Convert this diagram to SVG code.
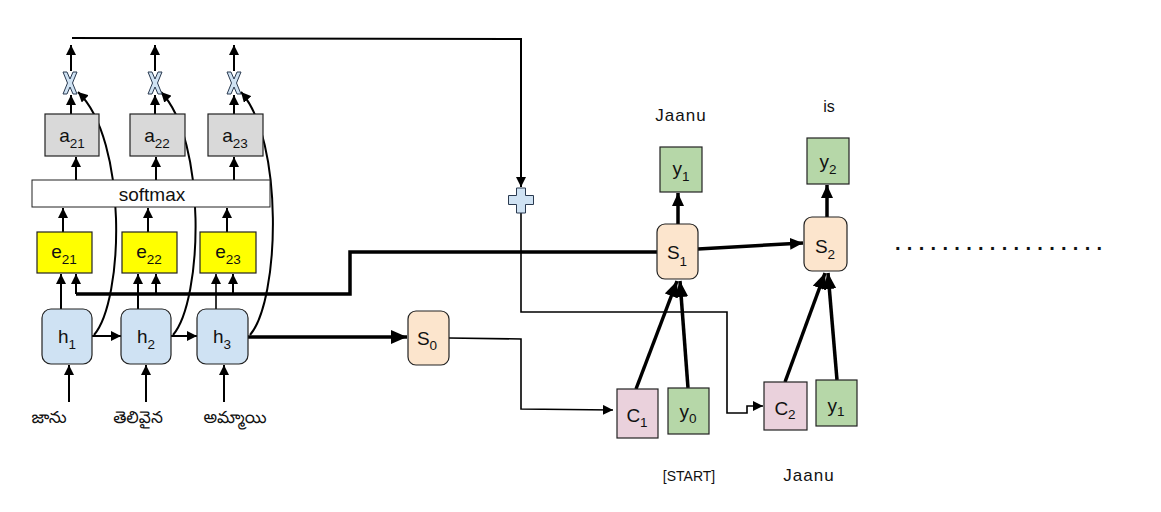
<svg xmlns="http://www.w3.org/2000/svg" width="1161" height="512" viewBox="0 0 1161 512">
<style>
text{font-family:"Liberation Sans",Arial,sans-serif;fill:#111}
.l{font-size:19px;text-anchor:middle}
.s{font-size:13.5px}
.w{font-size:16px;text-anchor:middle}
.te{font-family:"Noto Sans Telugu","Noto Sans","Liberation Sans",sans-serif;font-size:17px;text-anchor:middle}
.box{stroke:#222;stroke-width:1.2}
.gray{fill:#d9d9d9}.yel{fill:#ffff00}.blue{fill:#cfe2f3}.peach{fill:#fce5cd}.green{fill:#b6d7a8}.pink{fill:#ead1dc}
.c{fill:none;stroke:#000;stroke-width:2}
.k{fill:none;stroke:#000;stroke-width:3.5}
.t{fill:none;stroke:#000;stroke-width:1.6}
</style>
<defs>
<marker id="a" markerUnits="userSpaceOnUse" markerWidth="10" markerHeight="10" refX="10" refY="5" orient="auto"><path d="M0,0 L10,5 L0,10 z" fill="#000"/></marker>
<marker id="b" markerUnits="userSpaceOnUse" markerWidth="16" markerHeight="14" refX="16" refY="7" orient="auto"><path d="M0,0 L16,7 L0,14 z" fill="#000"/></marker>
<marker id="m" markerUnits="userSpaceOnUse" markerWidth="13" markerHeight="12" refX="13" refY="6" orient="auto"><path d="M0,0 L13,6 L0,12 z" fill="#000"/></marker>
<polygon id="x" points="-7,-11 -3,-11 0,-4 3,-11 7,-11 2.5,0 7,11 3,11 0,4 -3,11 -7,11 -2.5,0" fill="#cfe2f3" stroke="#2a3a50" stroke-width="1"/>
</defs>

<g id="connectors">
<path class="c" d="M72,38 L521,39 L521,187" marker-end="url(#a)"/>
<path class="c" d="M71,71 V45" marker-end="url(#a)"/>
<path class="c" d="M155,71 V45" marker-end="url(#a)"/>
<path class="c" d="M234,71 V45" marker-end="url(#a)"/>
<path class="c" d="M71,114 V95" marker-end="url(#a)"/>
<path class="c" d="M155,114 V95" marker-end="url(#a)"/>
<path class="c" d="M234,114 V95" marker-end="url(#a)"/>
<path class="c" d="M76,180 V157" marker-end="url(#a)"/>
<path class="c" d="M156,180 V157" marker-end="url(#a)"/>
<path class="c" d="M234,180 V157" marker-end="url(#a)"/>
<path class="c" d="M63,232 V208" marker-end="url(#a)"/>
<path class="c" d="M148,232 V208" marker-end="url(#a)"/>
<path class="c" d="M227,232 V208" marker-end="url(#a)"/>
<path class="c" d="M61,309 V274" marker-end="url(#a)"/>
<path class="c" d="M138,309 V274" marker-end="url(#a)"/>
<path class="t" d="M216,309 V274" marker-end="url(#a)"/>
<path class="c" d="M76,294 V274" marker-end="url(#a)"/>
<path class="c" d="M156,294 V274" marker-end="url(#a)"/>
<path class="c" d="M233,294 V274" marker-end="url(#a)"/>
<path class="k" d="M76,294 H350 V252 H657"/>
<path class="c" d="M92,336 H121" marker-end="url(#a)"/>
<path class="c" d="M171,336 H197" marker-end="url(#a)"/>
<path class="c" d="M94,335 C124,300 128,140 78,92" marker-end="url(#a)"/>
<path class="c" d="M173,335 C203,300 207,140 161,92" marker-end="url(#a)"/>
<path class="c" d="M250,335 C280,300 284,140 241,92" marker-end="url(#a)"/>
<path class="c" d="M69,402 V365" marker-end="url(#a)"/>
<path class="c" d="M146,402 V365" marker-end="url(#a)"/>
<path class="c" d="M224,402 V365" marker-end="url(#a)"/>
<path class="k" d="M248,337 H407" marker-end="url(#b)"/>
<path class="t" d="M449,338 L521,339 L521,409 L613,410" marker-end="url(#a)"/>
<path class="t" d="M521,213 V312 H727 V413 H747 V406 H763" marker-end="url(#a)"/>
<path class="k" d="M636,389 L677,281" marker-end="url(#b)"/>
<path class="k" d="M688,388 L680,281" marker-end="url(#b)"/>
<path class="k" d="M785,382 L825,273" marker-end="url(#b)"/>
<path class="k" d="M837,380 L828,273" marker-end="url(#b)"/>
<path class="k" d="M698,249 L803,243" marker-end="url(#m)"/>
<path class="k" d="M678,224 V193" marker-end="url(#m)"/>
<path class="k" d="M827,217 V185" marker-end="url(#m)"/>
</g>

<g id="mul1"><use href="#x" x="70" y="83"/></g>
<g id="mul2"><use href="#x" x="155" y="83"/></g>
<g id="mul3"><use href="#x" x="234" y="83"/></g>
<g id="plus"><polygon points="516.5,188 525.5,188 525.5,195.5 533.5,195.5 533.5,204.5 525.5,204.5 525.5,213 516.5,213 516.5,204.5 508.5,204.5 508.5,195.5 516.5,195.5" fill="#cfe2f3" stroke="#2a3a50" stroke-width="1"/></g>

<g id="a21"><rect class="box gray" x="45" y="114" width="54" height="42"/><text class="l" x="72" y="142">a<tspan class="s" dy="6">21</tspan></text></g>
<g id="a22"><rect class="box gray" x="130" y="114" width="55" height="42"/><text class="l" x="157" y="142">a<tspan class="s" dy="6">22</tspan></text></g>
<g id="a23"><rect class="box gray" x="208" y="114" width="55" height="42"/><text class="l" x="235" y="142">a<tspan class="s" dy="6">23</tspan></text></g>

<g id="softmax"><rect x="32" y="180" width="238" height="27" fill="#fff" stroke="#222" stroke-width="1"/><text x="152" y="201" style="font-size:19px;text-anchor:middle">softmax</text></g>

<g id="e21"><rect class="box yel" x="37" y="232" width="55" height="41"/><text class="l" x="64" y="258">e<tspan class="s" dy="6">21</tspan></text></g>
<g id="e22"><rect class="box yel" x="122" y="232" width="55" height="41"/><text class="l" x="149" y="258">e<tspan class="s" dy="6">22</tspan></text></g>
<g id="e23"><rect class="box yel" x="200" y="232" width="56" height="41"/><text class="l" x="228" y="258">e<tspan class="s" dy="6">23</tspan></text></g>

<g id="h1"><rect class="box blue" x="42" y="309" width="50" height="55" rx="9"/><text class="l" x="67" y="343">h<tspan class="s" dy="6">1</tspan></text></g>
<g id="h2"><rect class="box blue" x="121" y="309" width="50" height="55" rx="9"/><text class="l" x="146" y="343">h<tspan class="s" dy="6">2</tspan></text></g>
<g id="h3"><rect class="box blue" x="197" y="309" width="51" height="55" rx="9"/><text class="l" x="222" y="343">h<tspan class="s" dy="6">3</tspan></text></g>

<g id="w1"><text class="te" x="49" y="423">జాను</text></g>
<g id="w2"><text class="te" x="138" y="423">తెలివైన</text></g>
<g id="w3"><text class="te" x="235" y="423">అమ్మాయి</text></g>

<g id="s0"><rect class="box peach" x="408" y="311" width="41" height="54" rx="8"/><text class="l" x="427" y="345">S<tspan class="s" dy="5">0</tspan></text></g>
<g id="s1"><rect class="box peach" x="657" y="224" width="41" height="55" rx="8"/><text class="l" x="677" y="259">S<tspan class="s" dy="7">1</tspan></text></g>
<g id="s2"><rect class="box peach" x="804" y="217" width="43" height="54" rx="8"/><text class="l" x="825" y="253">S<tspan class="s" dy="6">2</tspan></text></g>

<g id="y1top"><rect class="box green" x="660" y="147" width="42" height="45"/><text class="l" x="681" y="175">y<tspan class="s" dy="6">1</tspan></text></g>
<g id="y2top"><rect class="box green" x="807" y="138" width="42" height="46"/><text class="l" x="828" y="168">y<tspan class="s" dy="6">2</tspan></text></g>

<g id="c1"><rect class="box pink" x="617" y="389" width="41" height="49"/><text class="l" x="637" y="422">C<tspan class="s" dy="5">1</tspan></text></g>
<g id="y0"><rect class="box green" x="668" y="388" width="41" height="46"/><text class="l" x="688" y="418">y<tspan class="s" dy="5">0</tspan></text></g>
<g id="c2"><rect class="box pink" x="764" y="382" width="43" height="48"/><text class="l" x="785" y="415">C<tspan class="s" dy="4">2</tspan></text></g>
<g id="y1bot"><rect class="box green" x="816" y="380" width="41" height="46"/><text class="l" x="836" y="412">y<tspan class="s" dy="4">1</tspan></text></g>

<g id="labels">
<text class="w" x="681" y="121" style="font-size:17px;letter-spacing:1px">Jaanu</text>
<text class="w" x="829" y="112">is</text>
<text class="w" x="689" y="481" style="font-size:14px">[START]</text>
<text class="w" x="809" y="481" style="font-size:17px;letter-spacing:1px">Jaanu</text>
<text x="895" y="250" style="font-size:20px;font-weight:bold;letter-spacing:6.3px">..................</text>
</g>
</svg>
